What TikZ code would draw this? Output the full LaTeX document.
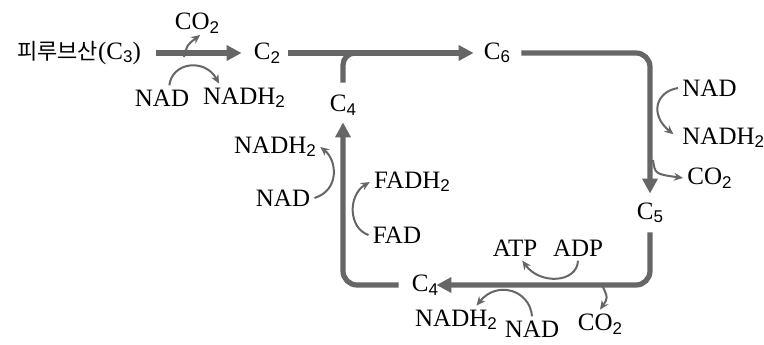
\documentclass[tikz,border=0pt]{standalone}
\usepackage{fontspec}
\setmainfont{Liberation Serif}
\setsansfont{Liberation Sans}
\newfontfamily\kor{Noto Sans CJK KR}
\usetikzlibrary{arrows.meta}
\definecolor{flow}{RGB}{102,102,102}
\newcommand\lo[1]{\raisebox{-0.3ex}{\fontsize{8.5}{10}\selectfont\sffamily #1}}

\begin{document}
\begin{tikzpicture}[x=0.5pt,y=-0.5pt,
		mol/.style={inner sep=2pt, font=\fontsize{12.5}{14}\selectfont},
		trunk/.style={draw=flow, line width=2.6pt},
		main/.style={trunk, -{Triangle[length=7.5pt,width=7.5pt]}},
		sidearrow/.style={draw=flow, line width=1pt, -{Stealth[length=4.5pt,width=4pt]}}]
			%%%%% START %%%%%
			
			\useasboundingbox (0,0) rectangle (764,344);
			
			% carbon skeletons
			\node[mol] (pyr) at (79,53) {{\kor\fontsize{11}{12}\selectfont 피루브산}(C\lo{3})};
			\node[mol] (ctwo) at (267,53) {C\lo{2}};
			\node[mol] (csix) at (497,53) {C\lo{6}};
			\node[mol] (cfive) at (650,213) {C\lo{5}};
			\node[mol] (cfourb) at (425,285) {C\lo{4}};
			\node[mol] (cfour) at (343,105) {C\lo{4}};
			
			% cofactors
			\node[mol] (co2a) at (197,23) {CO\lo{2}};
			\node[mol] (nada) at (162,98) {NAD};
			\node[mol] (nadha) at (244,98) {NADH\lo{2}};
			\node[mol,anchor=west] (nadb) at (678,88) {NAD};
			\node[mol,anchor=west] (nadhb) at (678,138) {NADH\lo{2}};
			\node[mol,anchor=west] (co2b) at (683,178) {CO\lo{2}};
			\node[mol] (atp) at (515,248) {ATP};
			\node[mol] (adp) at (578,248) {ADP};
			\node[mol] (nadhc) at (456,320) {NADH\lo{2}};
			\node[mol] (nadc) at (532,329) {NAD};
			\node[mol] (co2c) at (600,324) {CO\lo{2}};
			\node[mol] (nadhd) at (275,147) {NADH\lo{2}};
			\node[mol] (nadd) at (283,198) {NAD};
			\node[mol] (fadh) at (412,182) {FADH\lo{2}};
			\node[mol] (fad) at (397,235) {FAD};
			
			% main cycle
			\draw[main, shorten <=5.5pt, shorten >=4pt] (pyr) -- (ctwo);
			\draw[main, shorten <=2pt, shorten >=3pt] (ctwo) -- (csix);
			\draw[main, rounded corners=7pt, shorten <=3.5pt, shorten >=2.5pt] (csix) -| (cfive);
			\draw[main, rounded corners=7pt, shorten <=2.5pt, shorten >=-3pt] (cfive) |- (cfourb);
			\draw[main, rounded corners=7pt, shorten <=4.5pt, shorten >=1.5pt] (cfourb) -| (cfour);
			\coordinate (join) at (385,53);
			\draw[trunk, rounded corners=6pt, shorten <=4pt] (cfour) |- (join);
			
			% side reactions
			\coordinate (a1) at (184,57);
			\draw[sidearrow, shorten >=-2pt] (a1) .. controls (187,45) .. (co2a.south);
			\draw[sidearrow] (nada.60) .. controls (172,62) and (205,58) .. (nadha.150);
			\draw[sidearrow, shorten >=3pt] (nadb.west) .. controls (655,92) and (650,115) .. (nadhb.west);
			\coordinate (b1) at (653,160);
			\draw[sidearrow] (b1) .. controls (655,174) .. (co2b.west);
			\draw[sidearrow] (adp.south) .. controls (577,283) and (540,285) .. (atp.-60);
			\draw[sidearrow] (nadc.north) .. controls (530,290) and (497,280) .. (nadhc.35);
			\coordinate (c1) at (602,285);
			\draw[sidearrow] (c1) .. controls (608,298) .. (co2c.north);
			\draw[sidearrow] (nadd.east) .. controls (340,190) and (337,160) .. (nadhd.east);
			\draw[sidearrow] (fad.west) .. controls (348,228) and (348,195) .. (fadh.west);
			
			%%%%% END %%%%%
		\end{tikzpicture}
\end{document}
